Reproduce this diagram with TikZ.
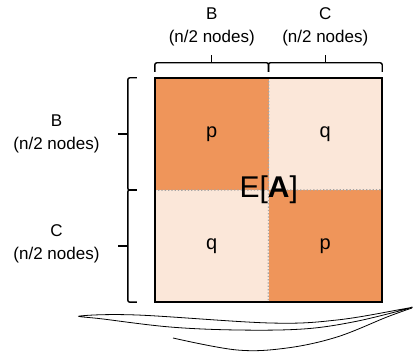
\documentclass[tikz,border=0pt]{standalone}
\usepackage{fontspec}
\setmainfont{Liberation Sans}
\usepackage{tikz}
\usetikzlibrary{calc}
\definecolor{darkcell}{RGB}{239,149,90}
\definecolor{lightcell}{RGB}{251,231,217}
\tikzset{
	cell/.style={minimum width=113.5pt,minimum height=112pt,inner sep=0pt,font=\fontsize{20}{24}\selectfont},
	bracket/.style={line width=1.4pt,rounded corners=2pt},
	lbl/.style={align=center,font=\fontsize{17}{23}\selectfont}
}

\begin{document}
\begin{tikzpicture}[x=1pt,y=-1pt]
	\useasboundingbox (0,0) rectangle (413,352);
	
%cells
	\node[cell,fill=darkcell] (pB) at (211.75,134) {p};
	\node[cell,fill=lightcell] (qBC) at (325.25,134) {q};
	\node[cell,fill=lightcell] (qCB) at (211.75,246) {q};
	\node[cell,fill=darkcell] (pC) at (325.25,246) {p};
	%dotted middle lines
	\draw[gray!70,dotted,line width=1.3pt] (pB.north east)--(pC.south west);
	\draw[gray!70,dotted,line width=1.3pt] (pB.south west)--(pC.north east);
	\draw[line width=2.5pt] (pB.north west) rectangle (pC.south east);
	\node[font=\fontsize{30}{34}\selectfont] (EA) at (pB.south east) {E[\textbf{A}]};
	
%brackets on top
	\foreach \c in {pB,qBC}
	{\draw[bracket] ([yshift=6pt]\c.north west) -- ++(0,-9) -- ([yshift=15pt]\c.north east) -- ++(0,9);
	\draw[line width=1.4pt] ([yshift=15pt]\c.north) -- ++(0,-8);}
	\node[lbl] (topB) at (211.75,27) {B\\(n/2 nodes)};
	\node[lbl] (topC) at (325.25,27) {C\\(n/2 nodes)};
	
%brackets on the left
	\foreach \c in {pB,qCB}
	{\draw[bracket] ([xshift=-18pt]\c.north west) -- ++(-9,0) -- ([xshift=-27pt]\c.south west) -- ++(9,0);
	\draw[line width=1.4pt] ([xshift=-27pt]\c.west) -- ++(-10,0);}
	\node[lbl,anchor=east] (leftB) at (103,134) {B\\(n/2 nodes)};
	\node[lbl,anchor=east] (leftC) at (103,244) {C\\(n/2 nodes)};
	
%scribble
	\draw[line width=0.8pt] plot[smooth,tension=0.6] coordinates {(412,307) (403,309) (337,320) (270,323) (137,315) (80,316) (103,319) (170,327) (237,330) (303,329) (353,322) (403,310) (412,307)};
	\draw[line width=0.8pt] plot[smooth,tension=0.6] coordinates {(173,338) (237,350) (287,348) (337,337) (387,317) (412,308)};
\end{tikzpicture}
\end{document}
